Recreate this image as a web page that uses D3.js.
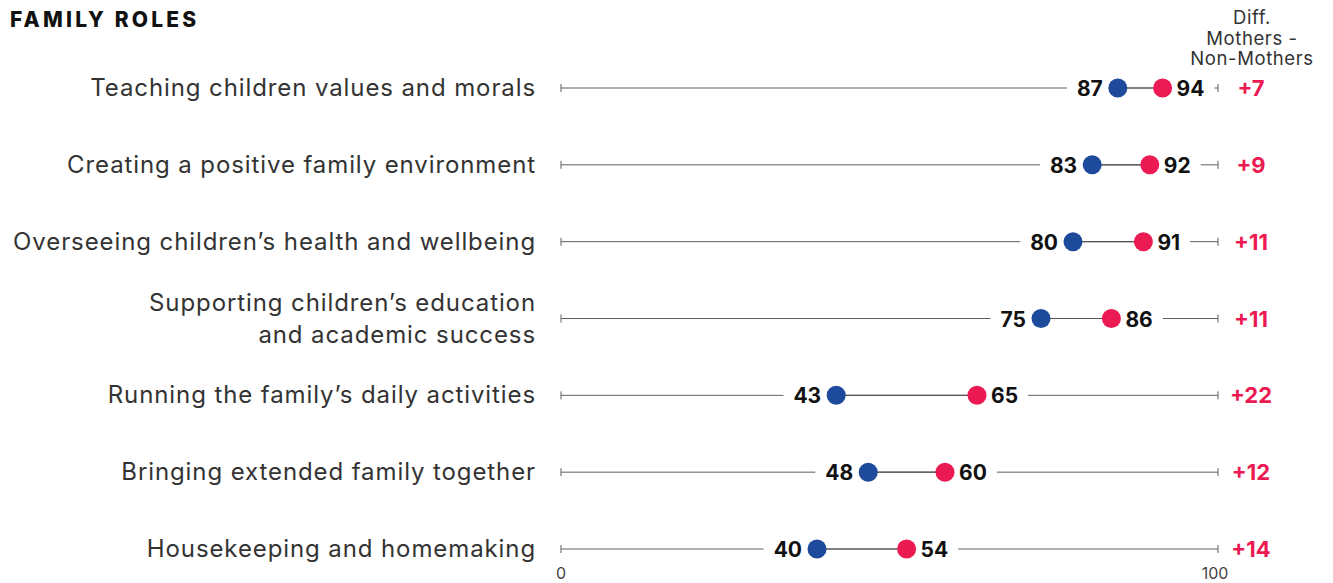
<!DOCTYPE html>
<html>
<head>
<meta charset="utf-8">
<script src="https://cdn.jsdelivr.net/npm/d3@7"></script>
<style>
  body { margin: 0; background: #fff; }
  text { font-family: Inter, "Noto Sans", sans-serif; }
</style>
</head>
<body>
<div id="chart"></div>
<script>
// Data
const roles = [
  ["Teaching children values and morals"],
  ["Creating a positive family environment"],
  ["Overseeing children\u2019s health and wellbeing"],
  ["Supporting children\u2019s education", "and academic success"],
  ["Running the family\u2019s daily activities"],
  ["Bringing extended family together"],
  ["Housekeeping and homemaking"]
];
const nonMothers = [87, 83, 80, 75, 43, 48, 40];
const mothers = [94, 92, 91, 86, 65, 60, 54];
const diffLabels = ["+7", "+9", "+11", "+11", "+22", "+12", "+14"];
const axisTicks = [0, 100];

const width = 1333, height = 583;
const blue = "#1e4a9b", pink = "#ec1a52";

const svg = d3.select("#chart").append("svg")
  .attr("width", width).attr("height", height);

// axis line spans a bit further than the dot scale
const xAxis = d3.scaleLinear().domain([0, 100]).range([561, 1218]);
const x = d3.scaleLinear().domain([0, 100]).range([561, 1201]);
const y = d3.scaleLinear().domain([0, roles.length - 1]).range([88, 549]);

svg.append("text")
  .attr("x", 10).attr("y", 27)
  .attr("font-size", 21).attr("font-weight", 800)
  .attr("letter-spacing", 3.2).attr("fill", "#111")
  .text("FAMILY ROLES");

const header = svg.append("text")
  .attr("text-anchor", "middle").attr("font-size", 18.5)
  .attr("letter-spacing", 0.6).attr("fill", "#333");
["Diff.", "Mothers -", "Non-Mothers"].forEach((t, i) => {
  header.append("tspan").attr("x", 1252).attr("y", 24 + i * 20.5).text(t);
});

const rows = svg.selectAll(".row").data(roles).enter().append("g")
  .attr("class", "row")
  .attr("transform", (d, i) => `translate(0,${y(i)})`);

// track line with end ticks
rows.append("line")
  .attr("x1", xAxis(0)).attr("x2", xAxis(100))
  .attr("stroke", "#5f5f5f").attr("stroke-width", 1);
rows.append("line").attr("x1", xAxis(0)).attr("x2", xAxis(0))
  .attr("y1", -4).attr("y2", 4).attr("stroke", "#5f5f5f");
rows.append("line").attr("x1", xAxis(100)).attr("x2", xAxis(100))
  .attr("y1", -4).attr("y2", 4).attr("stroke", "#5f5f5f");

// category labels
rows.append("text")
  .attr("text-anchor", "end").attr("font-size", 24)
  .attr("letter-spacing", 0.9).attr("fill", "#333")
  .each(function(d) {
    const t = d3.select(this);
    const off = d.length > 1 ? -16 : 0;
    d.forEach((line, j) => {
      t.append("tspan").attr("x", 536).attr("y", off + j * 32 + 8).text(line);
    });
  });

// knockout layer (filled after labels are measured)
const knock = rows.append("g");

// connector between dots
rows.append("line")
  .attr("x1", (d, i) => x(nonMothers[i])).attr("x2", (d, i) => x(mothers[i]))
  .attr("stroke", "#555").attr("stroke-width", 1.2);

rows.append("circle")
  .attr("cx", (d, i) => x(nonMothers[i])).attr("r", 9.5).attr("fill", blue);
rows.append("circle")
  .attr("cx", (d, i) => x(mothers[i])).attr("r", 9.5).attr("fill", pink);

const lblBlue = rows.append("text")
  .attr("x", (d, i) => x(nonMothers[i]) - 15).attr("y", 8)
  .attr("text-anchor", "end").attr("font-size", 21).attr("font-weight", 700)
  .attr("fill", "#111")
  .text((d, i) => nonMothers[i]);
const lblPink = rows.append("text")
  .attr("x", (d, i) => x(mothers[i]) + 14).attr("y", 8)
  .attr("font-size", 21).attr("font-weight", 700).attr("fill", "#111")
  .text((d, i) => mothers[i]);

// white gaps in the track around value labels
[lblBlue, lblPink].forEach(sel => {
  sel.each(function(d, i) {
    const b = this.getBBox();
    d3.select(knock.nodes()[i]).append("rect")
      .attr("x", b.x - 10).attr("y", -6)
      .attr("width", b.width + 20).attr("height", 12)
      .attr("fill", "#fff");
  });
});

rows.append("text")
  .attr("x", 1251).attr("y", 8)
  .attr("text-anchor", "middle").attr("font-size", 22).attr("font-weight", 700)
  .attr("fill", pink)
  .text((d, i) => diffLabels[i]);

// axis labels
svg.selectAll(".tick-label").data(axisTicks).enter().append("text")
  .attr("class", "tick-label")
  .attr("x", d => d === 100 ? xAxis(d) - 3 : xAxis(d))
  .attr("y", 579).attr("text-anchor", "middle")
  .attr("font-size", 16).attr("fill", "#444")
  .text(d => d);
</script>
</body>
</html>
